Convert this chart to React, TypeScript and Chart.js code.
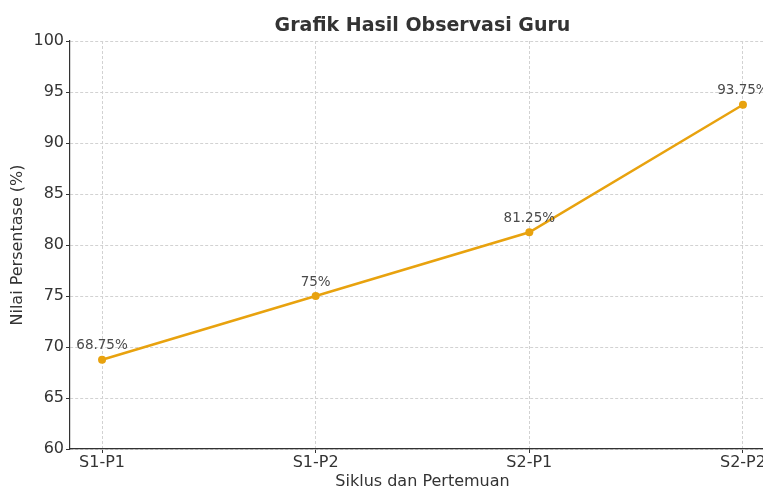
import React, { useEffect, useRef } from "react";
import { Chart, registerables } from "chart.js";

Chart.register(...registerables);

const categories = ["S1-P1", "S1-P2", "S2-P1", "S2-P2"];
const values = [68.75, 75, 81.25, 93.75];
const pointLabels = ["68.75%", "75%", "81.25%", "93.75%"];
const yTicks = [60, 65, 70, 75, 80, 85, 90, 95, 100];

const FONT = "'DejaVu Sans', Verdana, sans-serif";
const LINE_COLOR = "#E8A20E";
const TEXT_COLOR = "#333333";
const GRID_COLOR = "#d2d2d2";

const labelPlugin = {
  id: "pointValueLabels",
  afterDatasetsDraw(chart: any) {
    const ctx = chart.ctx;
    const meta = chart.getDatasetMeta(0);
    ctx.save();
    ctx.font = `13.5px ${FONT}`;
    ctx.fillStyle = "#4a4a4a";
    ctx.textAlign = "center";
    ctx.textBaseline = "middle";
    meta.data.forEach((pt: any, i: number) => {
      ctx.fillText(pointLabels[i], pt.x, pt.y - 14);
    });
    ctx.restore();
  },
};

export default function App() {
  const ref = useRef<HTMLCanvasElement | null>(null);

  useEffect(() => {
    if (!ref.current) return;
    const chart = new Chart(ref.current, {
      type: "line",
      data: {
        datasets: [
          {
            data: values.map((v, i) => ({ x: i, y: v })),
            borderColor: LINE_COLOR,
            backgroundColor: LINE_COLOR,
            pointBackgroundColor: LINE_COLOR,
            pointBorderColor: LINE_COLOR,
            borderWidth: 2.5,
            pointRadius: 4,
            pointBorderWidth: 0,
            tension: 0,
            clip: false as any,
          },
        ],
      },
      options: {
        animation: false,
        responsive: false,
        maintainAspectRatio: false,
        layout: { padding: { left: 0, right: 15, top: 0, bottom: 0 } },
        plugins: {
          legend: { display: false },
          tooltip: { enabled: false },
          title: {
            display: true,
            text: "Grafik Hasil Observasi Guru",
            fullSize: false,
            color: TEXT_COLOR,
            font: { family: FONT, size: 19, weight: "bold" },
            padding: { top: 14.6, bottom: 3.6 },
          },
        },
        scales: {
          x: {
            type: "linear",
            min: -0.15,
            max: 3.15,
            afterBuildTicks: (s: any) => {
              s.ticks = categories.map((_, i) => ({ value: i }));
            },
            afterFit: (s: any) => {
              s.height = 42;
            },
            ticks: {
              callback: (v: any) => categories[v],
              font: { family: FONT, size: 16 },
              color: TEXT_COLOR,
              padding: 0,
              maxRotation: 0,
              autoSkip: false,
            },
            grid: {
              color: GRID_COLOR,
              lineWidth: 1,
              tickLength: 4,
              tickColor: TEXT_COLOR,
              tickWidth: 1,
            },
            border: { display: true, color: TEXT_COLOR, width: 1.2, dash: [3, 2] },
            title: {
              display: true,
              text: "Siklus dan Pertemuan",
              color: TEXT_COLOR,
              font: { family: FONT, size: 16 },
              padding: { top: 0, bottom: 0 },
            },
          },
          y: {
            min: 60,
            max: 100,
            afterBuildTicks: (s: any) => {
              s.ticks = yTicks.map((v) => ({ value: v }));
            },
            afterFit: (s: any) => {
              s.width = 70;
            },
            ticks: {
              font: { family: FONT, size: 16 },
              color: TEXT_COLOR,
              padding: 2,
            },
            grid: {
              color: GRID_COLOR,
              lineWidth: 1,
              tickLength: 4,
              tickColor: TEXT_COLOR,
              tickWidth: 1,
            },
            border: { display: true, color: TEXT_COLOR, width: 1.2, dash: [3, 2] },
            title: {
              display: true,
              text: "Nilai Persentase (%)",
              color: TEXT_COLOR,
              font: { family: FONT, size: 16 },
              padding: { top: 8, bottom: 0 },
            },
          },
        },
      },
      plugins: [labelPlugin],
    } as any);
    return () => chart.destroy();
  }, []);

  return (
    <div
      style={{
        position: "fixed",
        left: 0,
        top: 0,
        width: 763,
        height: 491,
        overflow: "hidden",
        background: "#ffffff",
      }}
    >
      <canvas ref={ref} width={790} height={491} style={{ display: "block" }} />
    </div>
  );
}
